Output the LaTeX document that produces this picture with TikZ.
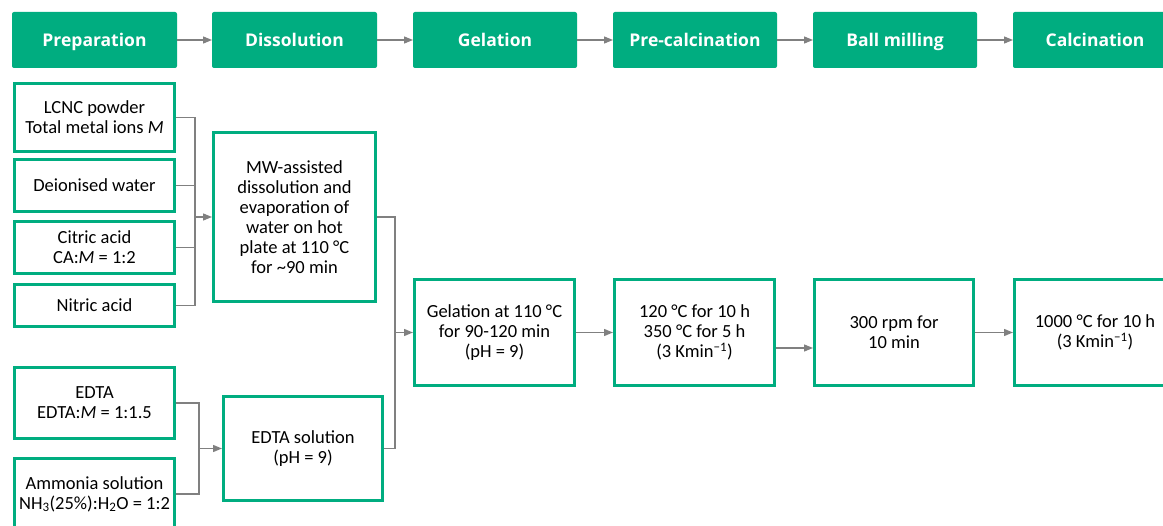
\documentclass[tikz,border=0pt]{standalone}
\usepackage{fontspec}
\setmainfont{Carlito}
\newfontfamily\headfont{Open Sans}
\usetikzlibrary{arrows.meta}
\definecolor{teal1}{RGB}{0,173,128}
\definecolor{conn}{RGB}{128,128,128}
\begin{document}
\begin{tikzpicture}[x=1pt,y=-1pt,
  box/.style={draw=teal1, line width=3pt, fill=white, align=center,
    font=\fontsize{18.5}{20}\selectfont, inner sep=1pt},
  head/.style={fill=teal1, rounded corners=2pt, text=white, align=center,
    font=\headfont\bfseries\fontsize{17.5}{20}\selectfont,
    text height=13pt, text depth=0pt,
    minimum height=56pt, minimum width=165pt, inner sep=0pt, outer sep=0pt},
  arr/.style={draw=conn, line width=1.3pt, -{Triangle[length=9pt,width=7pt]}},
  ln/.style={draw=conn, line width=1.3pt}]
\useasboundingbox (0,0) rectangle (1163,526);
\clip (0,0) rectangle (1163,526);
\fill[white] (0,0) rectangle (1163,526);

% header row
\node[head] (h1) at (94.5,40) {Preparation};
\node[head] (h2) at (294.5,40) {Dissolution};
\node[head, minimum width=164pt] (h3) at (495,40) {Gelation};
\node[head, minimum width=164pt] (h4) at (695,40) {Pre-calcination};
\node[head, minimum width=164pt] (h5) at (895,40) {Ball milling};
\node[head, minimum width=164pt] (h6) at (1095,40) {Calcination};
\draw[arr] (h1.east) -- (h2.west);
\draw[arr] (h2.east) -- (h3.west);
\draw[arr] (h3.east) -- (h4.west);
\draw[arr] (h4.east) -- (h5.west);
\draw[arr] (h5.east) -- (h6.west);

% preparation column
\node[box, minimum width=160pt, minimum height=68pt] (lcnc) at (94.5,117.5) {LCNC powder\\Total metal ions \textit{M}};
\node[box, minimum width=160pt, minimum height=52pt] (dw) at (94.5,185.5) {Deionised water};
\node[box, minimum width=160pt, minimum height=52pt] (ca) at (94.5,247.5) {Citric acid\\CA:\textit{M} = 1:2};
\node[box, minimum width=160pt, minimum height=42pt] (na) at (94.5,305.5) {Nitric acid};
\node[box, minimum width=160pt, minimum height=71pt] (edta) at (94.5,403) {EDTA\\EDTA:\textit{M} = 1:1.5};
\node[box, minimum width=160pt, minimum height=71pt] (amm) at (94.5,494) {Ammonia solution\\NH\textsubscript{3}(25\%):H\textsubscript{2}O = 1:2};

% dissolution column
\node[box, minimum width=162pt, minimum height=169pt] (mw) at (294.5,217) {MW-assisted\\dissolution and\\evaporation of\\water on hot\\plate at 110 °C\\for \textasciitilde 90 min};
\node[box, minimum width=159pt, minimum height=104pt] (es) at (303,448.5) {EDTA solution\\(pH = 9)};

% process row
\node[box, minimum width=160pt, minimum height=106pt] (gel) at (494.5,332.5) {Gelation at 110 °C\\for 90-120 min\\(pH = 9)};
\node[box, minimum width=160pt, minimum height=106pt] (pre) at (694.5,332.5) {120 °C for 10 h\\350 °C for 5 h\\(3 Kmin\textsuperscript{−1})};
\node[box, minimum width=159pt, minimum height=106pt] (ball) at (894,332.5) {300 rpm for\\10 min};
\node[box, minimum width=161pt, minimum height=106pt] (calc) at (1095,332.5) {1000 °C for 10 h\\(3 Kmin\textsuperscript{−1})};

% connectors
\coordinate (j1) at (195,217);
\draw[ln] (lcnc.east) -| (j1);
\draw[ln] (dw.east) -| (j1);
\draw[ln] (ca.east) -| (j1);
\draw[ln] (na.east) -| (j1);
\draw[arr] (j1) -- (mw.west);

\coordinate (j2) at (199,448.5);
\draw[ln] (edta.east) -| (j2);
\draw[ln] (amm.east) -| (j2);
\draw[arr] (j2) -- (es.west);

\coordinate (j3) at (395,332.5);
\draw[ln] (mw.east) -| (j3);
\draw[ln] (es.east) -| (j3);
\draw[arr] (j3) -- (gel.west);

\draw[arr] (gel.east) -- (pre.west);
\draw[arr] ([yshift=-15.5pt]pre.east) -- ([yshift=-15.5pt]ball.west);
\draw[arr] (ball.east) -- (calc.west);
\end{tikzpicture}
\end{document}
